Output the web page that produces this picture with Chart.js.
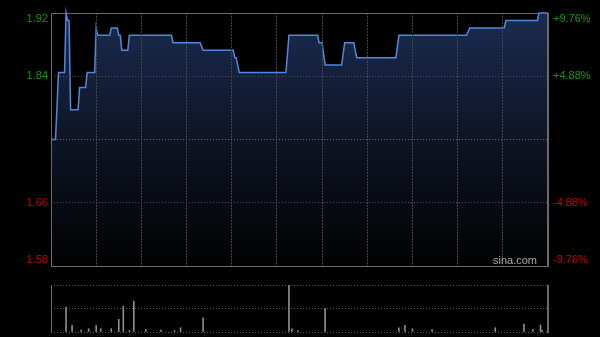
<!DOCTYPE html>
<html>
<head>
<meta charset="utf-8">
<script src="https://cdn.jsdelivr.net/npm/chart.js@4/dist/chart.umd.min.js"></script>
<style>
  body { margin: 0; background: #000; }
  #wrap { position: relative; width: 600px; height: 337px; background: #000; }
  canvas { position: absolute; left: 0; }
</style>
</head>
<body>
<div id="wrap">
  <canvas id="price" width="600" height="275" style="top:0"></canvas>
  <canvas id="volume" width="600" height="62" style="top:275px"></canvas>
</div>
<script>
// minute of the session (0 = 9:30, 330 = 16:00) and last price
const priceMinutes = [0, 3, 5, 9, 10, 11, 12, 13, 18, 19, 23, 24, 29, 30, 31, 39, 40, 44, 45, 46,
    47, 51, 52, 80, 81, 99, 101, 121, 122, 123, 125, 156, 158, 177, 178, 180, 182, 193, 195, 201,
    203, 229, 231, 276, 278, 301, 302, 323, 324, 330];
const prices = [1.75, 1.75, 1.84, 1.84, 1.92, 1.91, 1.91, 1.79, 1.79, 1.82, 1.82, 1.84, 1.84, 1.90, 1.89, 1.89, 1.90, 1.90, 1.89, 1.89,
    1.87, 1.87, 1.89, 1.89, 1.88, 1.88, 1.87, 1.87, 1.86, 1.86, 1.84, 1.84, 1.89, 1.89, 1.88, 1.88, 1.85, 1.85, 1.88, 1.88,
    1.86, 1.86, 1.89, 1.89, 1.90, 1.90, 1.91, 1.91, 1.92, 1.92];

// volume bars (relative height, 100 = top of panel)
const volMinutes = [10, 14, 20, 25, 30, 33, 40, 45, 48, 52, 55, 63, 73, 82, 86, 101, 158, 160, 164, 182,
    231, 235, 240, 253, 295, 314, 320, 325, 326];
const volValues = [53, 14, 4, 7, 14, 7, 7, 27, 55, 3, 66, 5, 4, 3, 9, 30, 100, 7, 3, 50,
    9, 14, 7, 5, 9, 17, 5, 15, 4];

const prevClose = 1.75;
const priceTicks = [1.58, 1.665, 1.75, 1.835, 1.92];
const priceLabels = ['1.58', '1.66', '', '1.84', '1.92'];
const pctLabels = ['-9.76%', '-4.88%', '', '+4.88%', '+9.76%'];
const volTicks = [0, 50, 100];

const FONT = '11px "Liberation Sans", Arial, sans-serif';
const GREEN = '#0a9a0a';
const RED = '#c80000';

//draws the frame, the side labels and the watermark
const framePlugin = {
    id: 'frame',
    afterDraw(chart, args, opts) {
        const a = chart.chartArea;
        const ctx = chart.ctx;
        ctx.save();
        ctx.strokeStyle = '#6a6a6a';
        ctx.lineWidth = 1;
        ctx.beginPath();
        if (opts.full) {
            ctx.moveTo(a.left + 0.5, a.bottom + 0.5);
            ctx.lineTo(a.left + 0.5, a.top + 0.5);
            ctx.lineTo(a.right, a.top + 0.5);
            ctx.moveTo(a.left, a.bottom + 0.5);
            ctx.lineTo(a.right, a.bottom + 0.5);
        } else {
            ctx.moveTo(a.left + 0.5, a.top);
            ctx.lineTo(a.left + 0.5, a.bottom + 1);
        }
        ctx.stroke();
        ctx.lineWidth = 2;
        ctx.beginPath();
        ctx.moveTo(a.right, a.top);
        ctx.lineTo(a.right, a.bottom + 1);
        ctx.stroke();

        if (opts.full) {
            const y = chart.scales.y;
            ctx.font = FONT;
            ctx.textBaseline = 'middle';
            priceTicks.forEach((v, i) => {
                let py = y.getPixelForValue(v);
                py = Math.min(Math.max(py, a.top + 6), a.bottom - 6);
                ctx.fillStyle = v > prevClose ? GREEN : RED;
                ctx.textAlign = 'right';
                ctx.fillText(priceLabels[i], a.left - 3, py);
                ctx.textAlign = 'left';
                ctx.fillText(pctLabels[i], a.right + 5, py);
            });
            ctx.fillStyle = '#a8a8a8';
            ctx.textAlign = 'right';
            ctx.fillText('sina.com', a.right - 11, a.bottom - 5);
        }
        ctx.restore();
    }
};

new Chart(document.getElementById('price'), {
    type: 'line',
    data: {
        datasets: [{
            data: priceMinutes.map((m, i) => ({x: m, y: prices[i]})),
            borderColor: '#4f88dc',
            borderWidth: 1.5,
            pointRadius: 0,
            tension: 0,
            fill: 'start',
            clip: false,
            backgroundColor: (c) => {
                const a = c.chart.chartArea;
                if (!a) return 'rgba(0,0,0,0)';
                const g = c.chart.ctx.createLinearGradient(0, a.top, 0, a.bottom);
                g.addColorStop(0, '#1a2c52');
                g.addColorStop(0.5, '#0e1424');
                g.addColorStop(1, '#020203');
                return g;
            }
        }]
    },
    options: {
        responsive: false,
        animation: false,
        layout: {padding: {left: 51, right: 52, top: 13, bottom: 9}},
        plugins: {legend: {display: false}, tooltip: {enabled: false}, frame: {full: true}},
        scales: {
            x: {
                type: 'linear', min: 0, max: 330,
                ticks: {display: false, stepSize: 30},
                grid: {color: '#454545', drawTicks: false, z: 1},
                border: {display: false, dash: [2, 1]}
            },
            y: {
                min: 1.58, max: 1.92,
                afterBuildTicks: (s) => { s.ticks = priceTicks.map(v => ({value: v})); },
                ticks: {display: false},
                grid: {color: (c) => c.tick && c.tick.value === prevClose ? '#6a6a6a' : '#505050', drawTicks: false, z: 1},
                border: {display: false, dash: [1, 2]}
            }
        }
    },
    plugins: [framePlugin]
});

new Chart(document.getElementById('volume'), {
    type: 'bar',
    data: {
        datasets: [{
            data: volMinutes.map((m, i) => ({x: m, y: volValues[i]})),
            backgroundColor: '#8c8c8c',
            barThickness: 1
        }]
    },
    options: {
        responsive: false,
        animation: false,
        layout: {padding: {left: 51, right: 52, top: 10, bottom: 5}},
        plugins: {legend: {display: false}, tooltip: {enabled: false}, frame: {full: false}},
        scales: {
            x: {
                type: 'linear', min: 0, max: 330, offset: false, display: false
            },
            y: {
                min: 0, max: 100,
                afterBuildTicks: (s) => { s.ticks = volTicks.map(v => ({value: v})); },
                ticks: {display: false},
                grid: {color: '#5a5a5a', drawTicks: false},
                border: {display: false, dash: [1, 2]}
            }
        }
    },
    plugins: [framePlugin]
});
</script>
</body>
</html>
